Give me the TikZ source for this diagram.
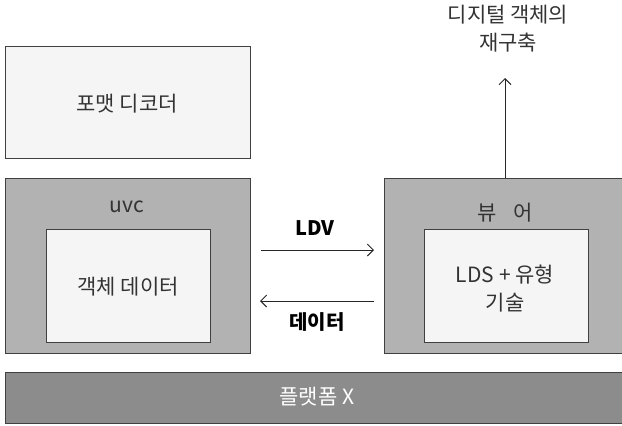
\documentclass[tikz,border=0pt]{standalone}
\usepackage{fontspec}
\setmainfont{Noto Sans CJK KR}
\usetikzlibrary{arrows.meta}
\tikzset{
  lightbox/.style={draw=black!75, line width=1pt, fill=black!4},
  midbox/.style={draw=black!75, line width=1pt, fill=black!30},
  darkbox/.style={draw=black!75, line width=1pt, fill=black!45},
  lbl/.style={font=\fontsize{21}{28}\selectfont, text=black!80, align=center, inner sep=0pt},
  boldlbl/.style={lbl, font=\fontsize{20}{28}\selectfont\bfseries, text=black},
  conn/.style={draw=black!85, line width=0.9pt, -{Straight Barb[length=6pt,width=12pt]}},
}
\begin{document}
\begin{tikzpicture}[x=1pt,y=-1pt]
\useasboundingbox (0,0) rectangle (622,426);
% boxes
\draw[lightbox] (5,46) rectangle (250,158);
\node[lbl] (dec) at (127,104) {포맷 디코더};
\draw[midbox] (5,178) rectangle (250,353);
\node[lbl] (uvc) at (127,207) {uvc};
\draw[lightbox] (46,229) rectangle (210,342);
\node[lbl] (obj) at (128,287) {객체 데이터};
\draw[midbox] (384,178) rectangle (624,353);
\coordinate (viewtop) at (505,178);
\node[lbl] (view) at (505,213) {뷰\hspace{0.8em}어};
\draw[lightbox] (424,229) rectangle (588,342);
\node[lbl] (lds) at (505,289) {LDS + 유형\\기술};
\draw[darkbox] (5,372) rectangle (624,423);
\node[lbl, text=white] (plat) at (317,397) {플랫폼 X};
% top text
\node[lbl] (recon) at (508,29) {디지털 객체의\\재구축};
\coordinate (uptip) at (505,78);
% connectors
\coordinate (a1) at (261,250);
\coordinate (a2) at (374,250);
\coordinate (b1) at (374,301);
\coordinate (b2) at (260,301);
\draw[conn] (a1) -- (a2);
\draw[conn] (b1) -- (b2);
\draw[conn] (viewtop) -- (uptip);
\node[boldlbl] (ldv) at (315,228) {LDV};
\node[boldlbl] (data) at (317,322) {데이터};
\end{tikzpicture}
\end{document}
